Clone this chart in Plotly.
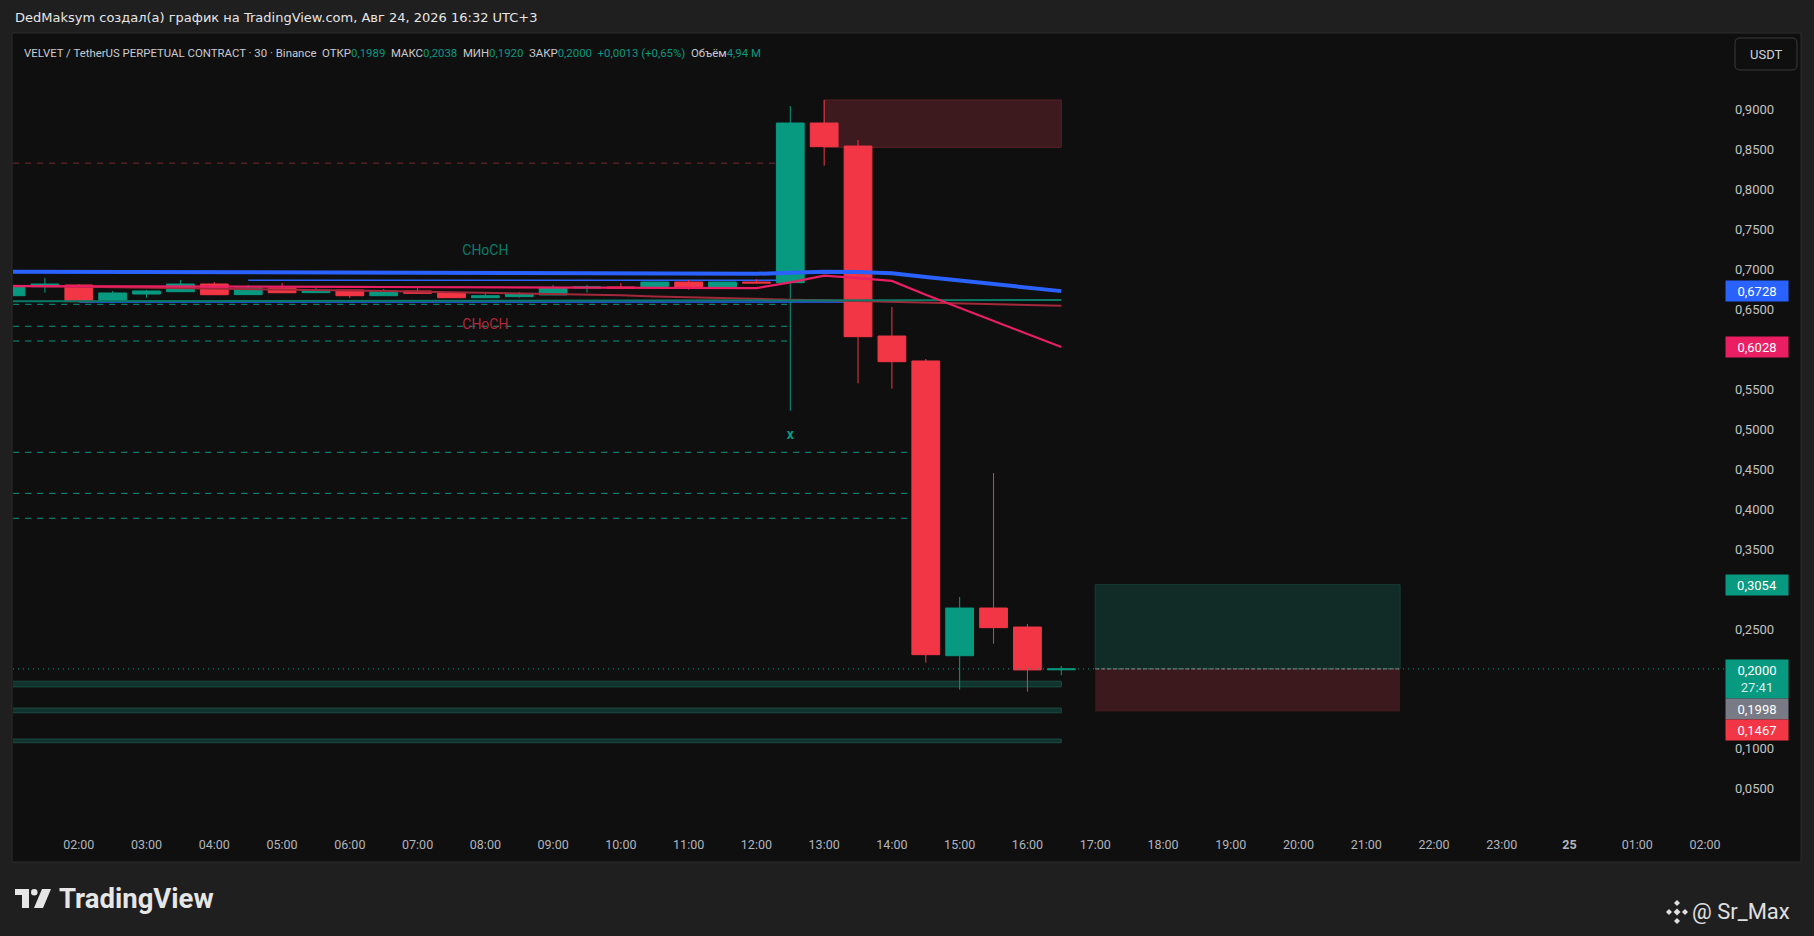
import plotly.graph_objects as go

# ---------------- data ----------------
times = [
    "2026-08-24 01:00", "2026-08-24 01:30", "2026-08-24 02:00", "2026-08-24 02:30",
    "2026-08-24 03:00", "2026-08-24 03:30", "2026-08-24 04:00", "2026-08-24 04:30",
    "2026-08-24 05:00", "2026-08-24 05:30", "2026-08-24 06:00", "2026-08-24 06:30",
    "2026-08-24 07:00", "2026-08-24 07:30", "2026-08-24 08:00", "2026-08-24 08:30",
    "2026-08-24 09:00", "2026-08-24 09:30", "2026-08-24 10:00", "2026-08-24 10:30",
    "2026-08-24 11:00", "2026-08-24 11:30", "2026-08-24 12:00", "2026-08-24 12:30",
    "2026-08-24 13:00", "2026-08-24 13:30", "2026-08-24 14:00", "2026-08-24 14:30",
    "2026-08-24 15:00", "2026-08-24 15:30", "2026-08-24 16:00", "2026-08-24 16:30",
]
opens = [0.6671, 0.6784, 0.6805, 0.6600, 0.6692, 0.6721, 0.6817, 0.6684,
         0.6767, 0.6709, 0.6742, 0.6671, 0.6730, 0.6705, 0.6646, 0.6659,
         0.6680, 0.6767, 0.6780, 0.6771, 0.6842, 0.6771, 0.6842, 0.6834,
         0.8832, 0.8544, 0.6166, 0.5854, 0.2165, 0.2762, 0.2524, 0.1989]
highs = [0.6812, 0.6892, 0.6817, 0.6730, 0.6742, 0.6867, 0.6842, 0.6805,
         0.6830, 0.6771, 0.6744, 0.6755, 0.6771, 0.6717, 0.6717, 0.6717,
         0.6805, 0.6805, 0.6830, 0.6844, 0.6867, 0.6844, 0.6876, 0.9045,
         0.9120, 0.8620, 0.6530, 0.5879, 0.2900, 0.4452, 0.2562, 0.2038]
lows = [0.6660, 0.6709, 0.6596, 0.6596, 0.6646, 0.6719, 0.6681, 0.6681,
        0.6706, 0.6707, 0.6642, 0.6669, 0.6698, 0.6644, 0.6644, 0.6646,
        0.6678, 0.6709, 0.6765, 0.6769, 0.6746, 0.6769, 0.6828, 0.5231,
        0.8298, 0.5574, 0.5507, 0.2078, 0.1740, 0.2315, 0.1715, 0.1920]
closes = [0.6796, 0.6817, 0.6596, 0.6705, 0.6730, 0.6817, 0.6683, 0.6767,
          0.6708, 0.6742, 0.6671, 0.6730, 0.6700, 0.6646, 0.6671, 0.6692,
          0.6767, 0.6780, 0.6767, 0.6842, 0.6771, 0.6842, 0.6830, 0.8832,
          0.8536, 0.6158, 0.5845, 0.2178, 0.2762, 0.2516, 0.1987, 0.2000]

ema_blue = [0.6972, 0.6971, 0.6970, 0.6969, 0.6968, 0.6967, 0.6966, 0.6965,
            0.6964, 0.6963, 0.6962, 0.6960, 0.6959, 0.6957, 0.6956, 0.6954,
            0.6953, 0.6951, 0.6950, 0.6948, 0.6947, 0.6946, 0.6945, 0.6958,
            0.6970, 0.6967, 0.6953, 0.6905, 0.6860, 0.6813, 0.6768, 0.6728]
ema_pink = [0.6790, 0.6790, 0.6789, 0.6787, 0.6786, 0.6786, 0.6785, 0.6785,
            0.6784, 0.6783, 0.6781, 0.6780, 0.6778, 0.6777, 0.6775, 0.6774,
            0.6772, 0.6771, 0.6770, 0.6769, 0.6768, 0.6767, 0.6765, 0.6838,
            0.6921, 0.6890, 0.6856, 0.6682, 0.6519, 0.6355, 0.6192, 0.6028]
ma_red = [0.6795, 0.6790, 0.6785, 0.6779, 0.6773, 0.6766, 0.6760, 0.6754,
          0.6748, 0.6742, 0.6736, 0.6729, 0.6722, 0.6715, 0.6708, 0.6700,
          0.6693, 0.6686, 0.6676, 0.6662, 0.6650, 0.6638, 0.6625, 0.6620,
          0.6615, 0.6605, 0.6595, 0.6585, 0.6575, 0.6565, 0.6555, 0.6546]

teal_line_times = ["2026-08-24 00:30", "2026-08-24 16:30"]
teal_line_vals = [0.6600, 0.6617]

level_prices = [0.8330, 0.6563, 0.6288, 0.6104, 0.4711, 0.4197, 0.3885]
level_colors = ["#7a2a31", "#089981", "#089981", "#089981", "#089981", "#089981", "#089981"]
level_ends = ["2026-08-24 12:30", "2026-08-24 12:30", "2026-08-24 12:30", "2026-08-24 12:30",
              "2026-08-24 14:30", "2026-08-24 14:30", "2026-08-24 14:30"]
level_start = "2026-08-24 00:30"

blue_seg_prices = [0.6863, 0.6591]
blue_seg_starts = ["2026-08-24 04:30", "2026-08-24 02:00"]
blue_seg_ends = ["2026-08-24 12:30", "2026-08-24 13:30"]

supply_time = ["2026-08-24 13:00", "2026-08-24 16:30"]
supply_price = [0.8528, 0.9120]

band_lows = [0.1775, 0.1451, 0.1076]
band_highs = [0.1846, 0.1510, 0.1122]
band_time = ["2026-08-24 00:30", "2026-08-24 16:30"]

pos_time = ["2026-08-24 17:00", "2026-08-24 21:30"]
pos_target, pos_entry, pos_stop = 0.3054, 0.2000, 0.1467

label_texts = ["CHoCH", "CHoCH", "<b>x</b>"]
label_times = ["2026-08-24 08:00", "2026-08-24 08:00", "2026-08-24 12:30"]
label_prices = [0.7218, 0.6292, 0.4927]
label_colors = ["#0c7d6a", "#b0283a", "#089981"]
label_sizes = [14, 14, 14]

x_tick_vals = ["2026-08-24 %02d:00" % h for h in range(2, 24)] + \
              ["2026-08-25 00:00", "2026-08-25 01:00", "2026-08-25 02:00"]
x_tick_text = ["%02d:00" % h for h in range(2, 24)] + ["<b>25</b>", "01:00", "02:00"]

# ticks visible in the reference (others are covered by the price tags)
y_tick_vals = [0.05, 0.10, 0.25, 0.35, 0.40, 0.45,
               0.50, 0.55, 0.65, 0.70, 0.75, 0.80, 0.85, 0.90]

tag_values = [0.6728, 0.6028, 0.3054, 0.2000, 0.1998, 0.1467]
tag_colors = ["#2962ff", "#e91e63", "#089981", "#089981", "#787b86", "#f23645"]
tag_shift = [0, 0, 0, -10, -40, -19]
timer_text = "27:41"
volume_text = "4,94 M"

# ---------------- helpers ----------------
W, H = 1814, 936
PL, PR, PT, PB = 13, 1724, 34, 827


def px(x):
    return (x - PL) / (PR - PL)


def py(y):
    return (PB - y) / (PB - PT)


def fmt(v):
    return ("%.4f" % v).replace(".", ",")


UP, DN = "#089981", "#f23645"
FONT = "Roboto"

fig = go.Figure()

# moving averages
fig.add_trace(go.Scatter(x=times, y=ma_red, mode="lines",
                         line=dict(color="#a3283a", width=2), hoverinfo="skip"))
fig.add_trace(go.Scatter(x=teal_line_times, y=teal_line_vals, mode="lines",
                         line=dict(color="#0b7a66", width=2), hoverinfo="skip"))
fig.add_trace(go.Scatter(x=times, y=ema_pink, mode="lines",
                         line=dict(color="#e91e63", width=2.2), hoverinfo="skip"))
fig.add_trace(go.Scatter(x=times, y=ema_blue, mode="lines",
                         line=dict(color="#2962ff", width=4), hoverinfo="skip"))

# candles
fig.add_trace(go.Candlestick(
    x=times, open=opens, high=highs, low=lows, close=closes,
    increasing=dict(line=dict(color=UP, width=1), fillcolor=UP),
    decreasing=dict(line=dict(color=DN, width=1), fillcolor=DN),
    whiskerwidth=0, hoverinfo="skip"))

# text labels
fig.add_trace(go.Scatter(x=label_times, y=label_prices, mode="text", text=label_texts,
                         textfont=dict(color=label_colors, size=label_sizes, family=FONT),
                         hoverinfo="skip"))

shapes = []
# panel
shapes.append(dict(type="rect", xref="paper", yref="paper", layer="below",
                   x0=px(12), x1=px(1801), y0=py(33), y1=py(862),
                   fillcolor="#0f0f0f", line=dict(color="#2c2c2c", width=1)))
# supply zone
shapes.append(dict(type="rect", xref="x", yref="y", layer="below",
                   x0=supply_time[0], x1=supply_time[1], y0=supply_price[0], y1=supply_price[1],
                   fillcolor="#3d1a1e", line=dict(color="#5a2127", width=1)))
# dashed levels
for p, c, e in zip(level_prices, level_colors, level_ends):
    shapes.append(dict(type="line", xref="x", yref="y", layer="below",
                       x0=level_start, x1=e, y0=p, y1=p,
                       line=dict(color=c, width=1, dash="6px,6px")))
for p, s, e in zip(blue_seg_prices, blue_seg_starts, blue_seg_ends):
    shapes.append(dict(type="line", xref="x", yref="y", layer="below",
                       x0=s, x1=e, y0=p, y1=p, line=dict(color="#2962ff", width=1.5)))
# demand bands
for lo, hi in zip(band_lows, band_highs):
    shapes.append(dict(type="rect", xref="x", yref="y", layer="below",
                       x0=band_time[0], x1=band_time[1], y0=lo, y1=hi,
                       fillcolor="#11332d", line=dict(color="#1b4a41", width=1)))
# position tool
shapes.append(dict(type="rect", xref="x", yref="y", layer="below",
                   x0=pos_time[0], x1=pos_time[1], y0=pos_entry, y1=pos_target,
                   fillcolor="#112b27", line=dict(color="#173d36", width=1)))
shapes.append(dict(type="rect", xref="x", yref="y", layer="below",
                   x0=pos_time[0], x1=pos_time[1], y0=pos_stop, y1=pos_entry,
                   fillcolor="#3b191d", line=dict(width=0)))
# last price dotted line
shapes.append(dict(type="line", xref="paper", yref="y", layer="above",
                   x0=0, x1=1, y0=closes[-1], y1=closes[-1],
                   line=dict(color="#089981", width=1, dash="1px,4px")))
shapes.append(dict(type="line", xref="x", yref="y", layer="above",
                   x0=pos_time[0], x1=pos_time[1], y0=pos_entry, y1=pos_entry,
                   line=dict(color="#8a8a8a", width=1, dash="4px,2px")))

# USDT button (rounded)
bx0, bx1, by0, by1, r = 1735, 1797, 38, 70, 5
path = (f"M {px(bx0 + r)},{py(by0)} L {px(bx1 - r)},{py(by0)} Q {px(bx1)},{py(by0)} {px(bx1)},{py(by0 + r)} "
        f"L {px(bx1)},{py(by1 - r)} Q {px(bx1)},{py(by1)} {px(bx1 - r)},{py(by1)} "
        f"L {px(bx0 + r)},{py(by1)} Q {px(bx0)},{py(by1)} {px(bx0)},{py(by1 - r)} "
        f"L {px(bx0)},{py(by0 + r)} Q {px(bx0)},{py(by0)} {px(bx0 + r)},{py(by0)} Z")
shapes.append(dict(type="path", xref="paper", yref="paper", path=path,
                   fillcolor="#0f0f0f", line=dict(color="#3a3a3a", width=1)))


def rect_path(x0, y0, x1, y1):
    return f"M {px(x0)},{py(y0)} L {px(x1)},{py(y0)} L {px(x1)},{py(y1)} L {px(x0)},{py(y1)} Z"


# TradingView logo glyph
shapes.append(dict(type="path", xref="paper", yref="paper", path=rect_path(15, 889, 29, 895),
                   fillcolor="#e6e6e6", line=dict(width=0)))
shapes.append(dict(type="path", xref="paper", yref="paper", path=rect_path(22, 895, 29, 908),
                   fillcolor="#e6e6e6", line=dict(width=0)))
shapes.append(dict(type="circle", xref="paper", yref="paper",
                   x0=px(31), x1=px(37.5), y0=py(889), y1=py(895.5),
                   fillcolor="#e6e6e6", line=dict(width=0)))
shapes.append(dict(type="path", xref="paper", yref="paper",
                   path=f"M {px(42)},{py(889)} L {px(51)},{py(889)} L {px(43)},{py(908)} L {px(34)},{py(908)} Z",
                   fillcolor="#e6e6e6", line=dict(width=0)))
# small diamond icon near watermark
for cx, cy, s in [(1677, 912, 3.5), (1677, 903, 3), (1677, 921, 3), (1669, 912, 3), (1685, 912, 3)]:
    shapes.append(dict(type="path", xref="paper", yref="paper",
                       path=f"M {px(cx)},{py(cy - s)} L {px(cx + s)},{py(cy)} L {px(cx)},{py(cy + s)} L {px(cx - s)},{py(cy)} Z",
                       fillcolor="#e0e0e0", line=dict(width=0)))

annotations = []
annotations.append(dict(xref="paper", yref="paper", x=px(13), y=py(17), xanchor="left", yanchor="middle",
                        text="DedMaksym создал(а) график на TradingView.com, Авг 24, 2026 16:32 UTC+3",
                        showarrow=False, font=dict(family="DejaVu Sans", size=13, color="#e6e6e6")))
chg = closes[-1] - closes[-2]
pct = chg / closes[-2] * 100
T = "#089981"
L = "#c9cbd2"
legend = (f"<span style='color:{L}'>VELVET / TetherUS PERPETUAL CONTRACT · 30 · Binance  ОТКР</span>"
          f"<span style='color:{T}'>{fmt(opens[-1])}</span>"
          f"<span style='color:{L}'>  МАКС</span><span style='color:{T}'>{fmt(highs[-1])}</span>"
          f"<span style='color:{L}'>  МИН</span><span style='color:{T}'>{fmt(lows[-1])}</span>"
          f"<span style='color:{L}'>  ЗАКР</span><span style='color:{T}'>{fmt(closes[-1])}</span>"
          f"<span style='color:{T}'>  +{fmt(chg)} (+{('%.2f' % pct).replace('.', ',')}%)</span>"
          f"<span style='color:{L}'>  Объём</span><span style='color:{T}'>{volume_text}</span>")
annotations.append(dict(xref="paper", yref="paper", x=px(22), y=py(53), xanchor="left", yanchor="middle",
                        text=legend, showarrow=False, font=dict(family=FONT, size=11.4, color=L)))
annotations.append(dict(xref="paper", yref="paper", x=px(1766), y=py(54), xanchor="center", yanchor="middle",
                        text="USDT", showarrow=False, font=dict(family=FONT, size=13, color="#d1d4dc")))
annotations.append(dict(xref="paper", yref="paper", x=px(57), y=py(898), xanchor="left", yanchor="middle",
                        text="<b>TradingView</b>", showarrow=False,
                        font=dict(family=FONT, size=27.5, color="#e6e6e6")))
annotations.append(dict(xref="paper", yref="paper", x=px(1792), y=py(912), xanchor="right", yanchor="middle",
                        text="@ Sr_Max", showarrow=False, font=dict(family=FONT, size=22, color="#e0e0e0")))

# price tags on axis
for v, c, s in zip(tag_values, tag_colors, tag_shift):
    if v == closes[-1] and c == UP and s != 0:
        txt = f"{fmt(v)}<br><span style='color:#d6efe9'>{timer_text}</span>"
        h = 36
    else:
        txt = fmt(v)
        h = 18
    annotations.append(dict(xref="paper", yref="y", x=px(1725), y=v, yshift=s,
                            xanchor="left", yanchor="middle", width=60, height=h,
                            align="center", valign="middle", bgcolor=c, borderpad=1,
                            text=txt, showarrow=False,
                            font=dict(family=FONT, size=13, color="#ffffff")))

fig.update_layout(
    width=W, height=H,
    margin=dict(l=PL, r=W - PR, t=PT, b=H - PB, pad=0),
    paper_bgcolor="#1f1f1f", plot_bgcolor="rgba(0,0,0,0)",
    showlegend=False, boxgap=0.18, boxgroupgap=0,
    shapes=shapes, annotations=annotations,
    font=dict(family=FONT),
)
fig.update_xaxes(type="date", range=["2026-08-24 01:01:44", "2026-08-25 02:16:48"],
                 rangeslider_visible=False, showgrid=False, zeroline=False, showline=False,
                 tickvals=x_tick_vals, ticktext=x_tick_text, ticks="",
                 tickfont=dict(family=FONT, size=12.5, color="#b2b5be"), ticklabelstandoff=8)
fig.update_yaxes(range=[0.00213, 0.99462], side="right", showgrid=False, zeroline=False, showline=False,
                 tickvals=y_tick_vals, ticktext=[fmt(v) for v in y_tick_vals], ticks="",
                 tickfont=dict(family=FONT, size=13, color="#c3c3c3"), ticklabelstandoff=10)

fig.write_html("out.html", config={"displayModeBar": False},
               post_script="document.body.style.margin='0';document.body.style.background='#1f1f1f';")
